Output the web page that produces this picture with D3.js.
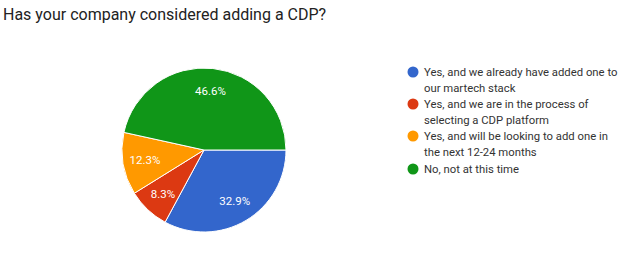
<!DOCTYPE html>
<html lang="en">
<head>
  <meta charset="UTF-8">
  <title>Has your company considered adding a CDP?</title>
  <style>
    body { margin: 0; padding: 0; background: #fff; font-family: Roboto, Arial, sans-serif; }
    svg { display: block; }
    .title { font-size: 16px; fill: #222; }
    .slice { stroke: #fff; stroke-width: 1px; }
    .pct { font-size: 11.5px; fill: #fff; text-anchor: middle; }
    .legend text { font-size: 11.3px; fill: #333; }
  </style>
</head>
<body>
  <svg width="624" height="267"></svg>

  <script src="https://d3js.org/d3.v7.min.js"></script>
  <script>
    const categories = [
      ["Yes, and we already have added one to", "our martech stack"],
      ["Yes, and we are in the process of", "selecting a CDP platform"],
      ["Yes, and will be looking to add one in", "the next 12-24 months"],
      ["No, not at this time"]
    ];
    const values = [32.9, 8.3, 12.3, 46.6];
    const colors = ["#3366cc", "#dc3912", "#ff9900", "#109618"];

    const svg = d3.select("svg");

    svg.append("text")
      .attr("class", "title")
      .attr("x", 3)
      .attr("y", 20)
      .text("Has your company considered adding a CDP?");

    const cx = 204, cy = 150, r = 82;
    const g = svg.append("g").attr("transform", `translate(${cx},${cy})`);

    // google charts style: first slice starts at 3 o'clock, clockwise
    const pie = d3.pie().sort(null)
      .startAngle(Math.PI / 2)
      .endAngle(Math.PI / 2 + 2 * Math.PI);
    const arcs = pie(values);
    const arc = d3.arc().innerRadius(0).outerRadius(r);
    const labelArc = d3.arc().innerRadius(r * 0.73).outerRadius(r * 0.73);

    g.selectAll(".slice")
      .data(arcs)
      .enter().append("path")
      .attr("class", "slice")
      .attr("fill", (d, i) => colors[i])
      .attr("d", arc);

    g.selectAll(".pct")
      .data(arcs)
      .enter().append("text")
      .attr("class", "pct")
      .attr("transform", d => `translate(${labelArc.centroid(d)})`)
      .attr("dy", "0.35em")
      .text(d => d.data.toFixed(1) + "%");

    const legend = svg.append("g").attr("class", "legend");
    const rowY = [72, 104, 136, 169];
    const items = legend.selectAll("g")
      .data(categories)
      .enter().append("g")
      .attr("transform", (d, i) => `translate(413,${rowY[i]})`);

    items.append("circle")
      .attr("r", 5.5)
      .attr("fill", (d, i) => colors[i]);

    items.append("text")
      .attr("x", 11)
      .attr("y", 4)
      .selectAll("tspan")
      .data(d => d)
      .enter().append("tspan")
      .attr("x", 11)
      .attr("dy", (d, i) => i === 0 ? 0 : 15.5)
      .text(d => d);
  </script>
</body>
</html>
